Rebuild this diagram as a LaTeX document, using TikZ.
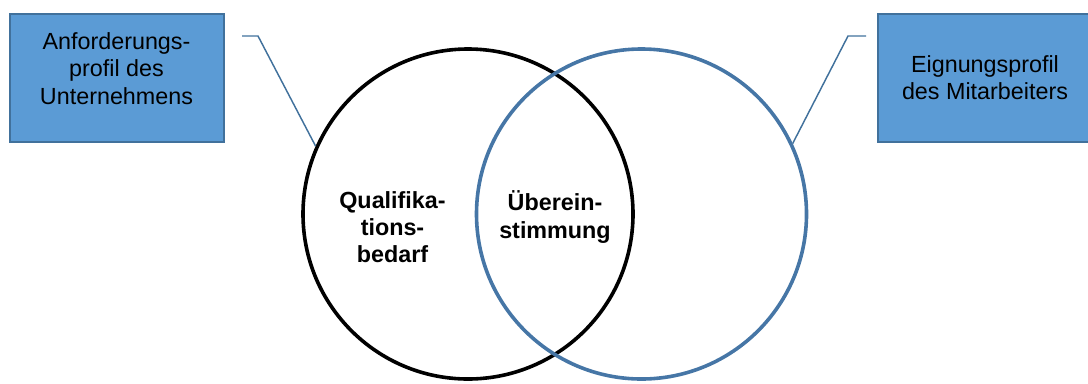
\documentclass[tikz,border=0pt]{standalone}
\usepackage{fontspec}
\setmainfont{Liberation Sans}
\usepackage{xcolor}
\usetikzlibrary{positioning, calc}
\definecolor{boxblue}{HTML}{5B9BD5}
\definecolor{rimblue}{HTML}{41719C}
\definecolor{ringblue}{HTML}{4676A6}

\begin{document}
\begin{tikzpicture}[
    x=0.75pt, y=-0.75pt,
    profilbox/.style={rectangle, draw=rimblue, line width=1.5pt, fill=boxblue, minimum width=160.5pt, minimum height=96pt, align=center, font=\fontsize{17.5}{20.5}\selectfont},
    kreis/.style={circle, line width=2.7pt, minimum size=247.5pt, inner sep=0pt},
    fett/.style={align=center, font=\fontsize{17.5}{20.5}\selectfont\bfseries},
    zeiger/.style={rimblue, line width=1.1pt}
]
\useasboundingbox (0,0) rectangle (1088,383);

% Circles
\node[kreis, draw=black] (bedarf) at (468,214) {};
\node[kreis, draw=ringblue] (eignung) at (641.5,214) {};

% Boxes
\node[profilbox] (anforderung) at (116.5,77.5) {Anforderungs-\\profil des\\Unternehmens\\[-7pt]\mbox{}};
\node[profilbox] (mitarbeiter) at (985,77.5) {Eignungsprofil\\des Mitarbeiters};

% Labels
\node[fett] (quali) at (392.5,227) {Qualifika-\\tions-\\bedarf};
\node[fett] (ueber) at (555,217) {Überein-\\stimmung};

% Pointers
\coordinate (startL) at (242,36);
\coordinate (knickL) at (258,36);
\coordinate (startR) at (866,36);
\coordinate (knickR) at (848,36);
\draw[zeiger] (startL) -- (knickL) -- (bedarf.156);
\draw[zeiger] (startR) -- (knickR) -- (eignung.25);

\end{tikzpicture}
\end{document}
